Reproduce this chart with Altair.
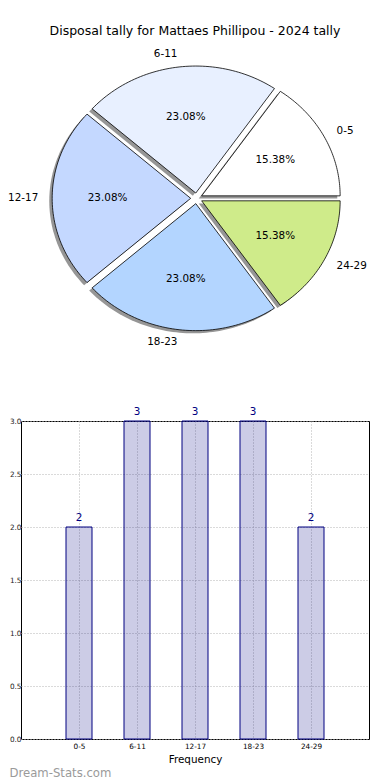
import altair as alt
import pandas as pd

# ---------------- data ----------------
categories = ["0-5", "6-11", "12-17", "18-23", "24-29"]
counts = [2, 3, 3, 3, 2]
slice_colors = ["#ffffff", "#e8f0ff", "#c4d8ff", "#b3d5ff", "#cfeb8a"]
y_ticks = [0.0, 0.5, 1.0, 1.5, 2.0, 2.5, 3.0]
title_text = "Disposal tally for Mattaes Phillipou - 2024 tally"
watermark = "Dream-Stats.com"

df = pd.DataFrame({"cat": categories, "count": counts, "idx": list(range(len(categories)))})

FONT = "DejaVu Sans"
N = 60            # arc resolution
EXPLODE = 0.042   # slice explode (fraction of radius)
SHADOW = 0.021    # shadow offset (fraction of radius)

# pie panel geometry (px per data unit differ -> elliptical pie like the reference)
RX, RY = 138.5, 127.0
PIE_W, PIE_H = 348, 320
XMIN = -1.2671
XMAX = XMIN + PIE_W / RX
YMAX = 1.231
YMIN = YMAX - PIE_H / RY

base = (
    alt.Chart(df)
    .transform_window(cum="sum(count)", sort=[alt.SortField("idx")], frame=[None, 0])
    .transform_joinaggregate(total="sum(count)")
    .transform_calculate(
        a0="2*PI*(datum.cum - datum.count)/datum.total",
        a1="2*PI*datum.cum/datum.total",
    )
    .transform_calculate(
        mid="(datum.a0 + datum.a1)/2",
        pct="format(100*datum.count/datum.total, '.2f') + '%'",
    )
    .transform_calculate(
        ox=f"{EXPLODE}*cos(datum.mid)",
        oy=f"{EXPLODE}*sin(datum.mid)",
    )
)

poly = (
    base.transform_calculate(k=f"sequence(0, {N + 3})")
    .transform_flatten(["k"])
    .transform_calculate(
        ang=f"datum.a0 + (datum.a1 - datum.a0) * clamp((datum.k - 1) / {N}, 0, 1)",
        rim=f"(datum.k == 0 || datum.k == {N + 2}) ? 0 : 1",
    )
    .transform_calculate(
        px="datum.ox + datum.rim*cos(datum.ang)",
        py="datum.oy + datum.rim*sin(datum.ang)",
    )
    .transform_calculate(
        sx=f"datum.px - {SHADOW}",
        sy=f"datum.py - {SHADOW}",
    )
)

xsc = alt.Scale(domain=[XMIN, XMAX], nice=False, zero=False)
ysc = alt.Scale(domain=[YMIN, YMAX], nice=False, zero=False)

shadow = poly.mark_line(filled=True, fill="#404040", fillOpacity=0.55, strokeWidth=0, interpolate="linear").encode(
    x=alt.X("sx:Q", scale=xsc, axis=None),
    y=alt.Y("sy:Q", scale=ysc, axis=None),
    order="k:Q",
    detail="cat:N",
)

slices = poly.mark_line(filled=True, stroke="black", strokeWidth=0.8, opacity=1, interpolate="linear").encode(
    x=alt.X("px:Q", scale=xsc, axis=None),
    y=alt.Y("py:Q", scale=ysc, axis=None),
    order="k:Q",
    fill=alt.Fill("cat:N", scale=alt.Scale(domain=categories, range=slice_colors), legend=None),
    detail="cat:N",
)

lab = base.transform_calculate(
    lx="datum.ox + 1.1*cos(datum.mid)",
    ly="datum.oy + 1.1*sin(datum.mid)",
    tx="datum.ox + 0.6*cos(datum.mid)",
    ty="datum.oy + 0.6*sin(datum.mid)",
)

labels_left = lab.transform_filter("cos(datum.mid) > 0").mark_text(
    align="left", baseline="middle", font=FONT, fontSize=10.4, color="black"
).encode(x=alt.X("lx:Q", scale=xsc, axis=None), y=alt.Y("ly:Q", scale=ysc, axis=None), text="cat:N")

labels_right = lab.transform_filter("cos(datum.mid) <= 0").mark_text(
    align="right", baseline="middle", font=FONT, fontSize=10.4, color="black"
).encode(x=alt.X("lx:Q", scale=xsc, axis=None), y=alt.Y("ly:Q", scale=ysc, axis=None), text="cat:N")

pct_labels = lab.mark_text(
    align="center", baseline="middle", font=FONT, fontSize=10.4, color="black"
).encode(x=alt.X("tx:Q", scale=xsc, axis=None), y=alt.Y("ty:Q", scale=ysc, axis=None), text="pct:N")

pie = alt.layer(shadow, slices, labels_left, labels_right, pct_labels).properties(
    width=PIE_W,
    height=PIE_H,
    view=alt.ViewBackground(stroke="transparent", strokeWidth=0),
    title=alt.TitleParams(
        title_text, fontSize=12.5, fontWeight="normal", font=FONT, color="black",
        anchor="middle", frame="group", offset=5,
    ),
)

# ---------------- bar chart ----------------
bar_df = pd.DataFrame({"cat": categories, "count": counts})
BAR_W, BAR_H = 348, 318

xb = alt.X(
    "cat:N",
    sort=categories,
    scale=alt.Scale(type="point", padding=1),
    axis=alt.Axis(
        title="Frequency", labelAngle=0, labelFontSize=7.3, labelFont=FONT, labelColor="black",
        ticks=False, domain=False, grid=True, gridDash=[1, 2], gridColor="#b4b4b4", gridWidth=1,
        titleFontSize=10.4, titleFont=FONT, titleFontWeight="normal", titleColor="black",
        labelPadding=3, titlePadding=5,
    ),
)
yb = alt.Y(
    "count:Q",
    scale=alt.Scale(domain=[0, 3], nice=False, zero=True),
    axis=alt.Axis(
        title=None, values=y_ticks, format=".1f", labelFontSize=7.3, labelFont=FONT, labelColor="#222222",
        ticks=False, domain=False, grid=True, gridDash=[1, 2], gridColor="#b4b4b4", gridWidth=1,
        labelPadding=0,
    ),
)

bars = alt.Chart(bar_df).mark_bar(
    size=26, fill="navy", fillOpacity=0.2, stroke="navy", strokeWidth=1
).encode(x=xb, y=yb)

bar_text = alt.Chart(bar_df).mark_text(
    baseline="bottom", dy=-4, font=FONT, fontSize=10.4, color="navy"
).encode(x=alt.X("cat:N", sort=categories), y="count:Q", text="count:Q")

bar = alt.layer(bars, bar_text).properties(
    width=BAR_W,
    height=BAR_H,
    view=alt.ViewBackground(stroke="black", strokeWidth=1),
    title=alt.TitleParams(
        watermark, orient="bottom", anchor="start", frame="bounds", fontSize=11.7,
        fontWeight="normal", font=FONT, color="#9a9a9a", offset=3,
    ),
)

chart = (
    alt.vconcat(pie, bar, spacing=44)
    .properties(padding={"top": 16, "left": 0, "right": 0, "bottom": 0})
    .configure(font=FONT)
    .configure_view(stroke="transparent")
)

chart.save("out.html", embed_options={"renderer": "svg", "actions": False})
